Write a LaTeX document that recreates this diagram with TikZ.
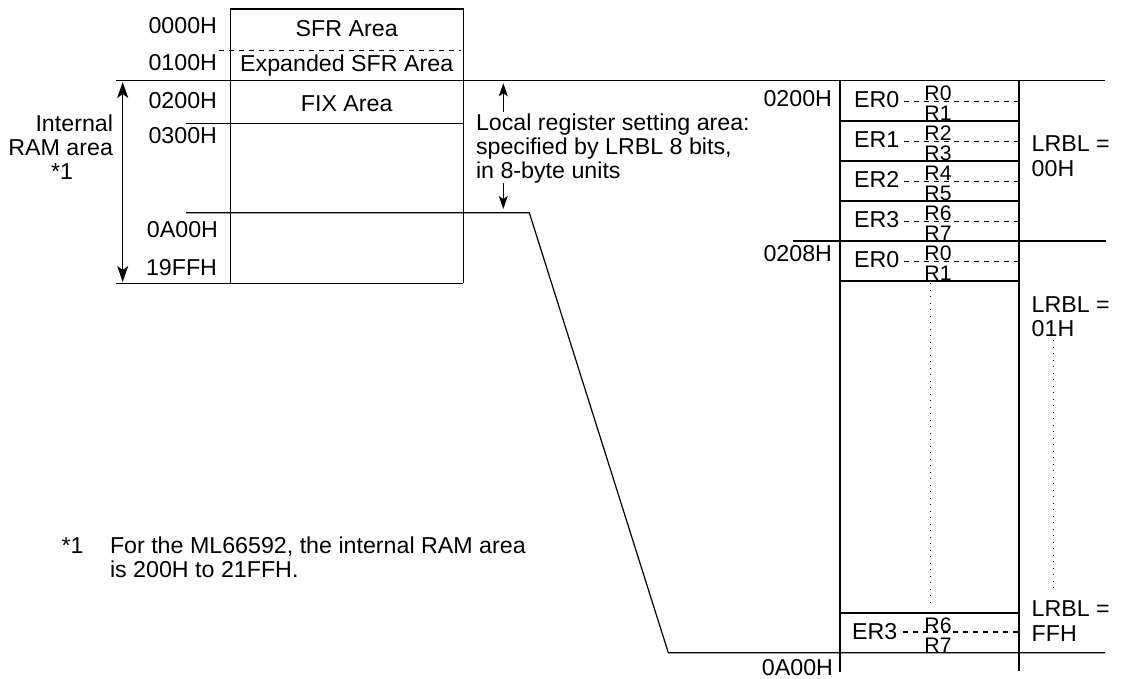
\documentclass[tikz,border=0pt]{standalone}
\usepackage{fontspec}
\setmainfont{Liberation Sans}[FakeStretch=1.01]
\usetikzlibrary{arrows.meta}
\begin{document}
\begin{tikzpicture}[x=1pt,y=-1pt,line width=1.2pt,
  lbl/.style={inner sep=0pt,outer sep=0pt,font=\fontsize{23}{24}\selectfont},
  rlbl/.style={inner sep=0pt,outer sep=0pt,font=\fontsize{21}{21}\selectfont},
  rowline/.style={line width=1.7pt},
  dashline/.style={line width=1.1pt,dash pattern=on 5pt off 5pt},
  dotline/.style={line width=1pt,dash pattern=on 1pt off 5.5pt},
  bigarrow/.style={{Stealth[length=16pt,width=11pt,inset=4pt]}-{Stealth[length=16pt,width=11pt,inset=4pt]}},
  smallarrow/.style={-{Stealth[length=13pt,width=9pt,inset=3pt]}}]
\useasboundingbox (0,0) rectangle (1121,678);

% ---------- left memory map ----------
\coordinate (bTL) at (230.7,9);
\coordinate (bTR) at (463.3,9);
\coordinate (bBL) at (230.7,283.3);
\coordinate (bBR) at (463.3,283.3);
\draw (bBL) -- (bTL) -- (bTR) -- (bBR);
\coordinate (dA) at (219,50.7);
\coordinate (dB) at (461,50.7);
\draw[dashline] (dA) -- (dB);
\coordinate (topL) at (116,80.7);
\coordinate (topR) at (1105,80.7);
\draw (topL) -- (topR);
\coordinate (l3A) at (186,123.7);
\coordinate (l3B) at (463.3,123.7);
\draw (l3A) -- (l3B);
\coordinate (lAA) at (186,212.7);
\coordinate (lAK) at (529.3,212.7);
\coordinate (lAD) at (668.3,652.7);
\coordinate (lAE) at (1105,652.7);
\draw (lAA) -- (lAK) -- (lAD) -- (lAE);
\coordinate (botL) at (116,283.3);
\draw (botL) -- (bBR);

\node[lbl,anchor=base east] (a0000) at (217,33) {0000H};
\node[lbl,anchor=base east] (a0100) at (217,70) {0100H};
\node[lbl,anchor=base east] (a0200) at (217,108.3) {0200H};
\node[lbl,anchor=base east] (a0300) at (217,143.5) {0300H};
\node[lbl,anchor=base east] (a0A00) at (218,237.5) {0A00H};
\node[lbl,anchor=base east] (a19FF) at (217,275) {19FFH};

\node[lbl,anchor=base] (sfr) at (346.7,36) {SFR Area};
\node[lbl,anchor=base] (esfr) at (346.7,71.7) {Expanded SFR Area};
\node[lbl,anchor=base] (fix) at (346.7,111.7) {FIX Area};

% internal RAM arrow
\coordinate (ramT) at (122.7,82);
\coordinate (ramB) at (122.7,282);
\draw[bigarrow] (ramT) -- (ramB);
\node[lbl,anchor=base east] (int1) at (113,131.5) {Internal};
\node[lbl,anchor=base east] (int2) at (113,155.2) {RAM area};
\node[lbl,anchor=base] (int3) at (62,179) {*1};

% local register setting area
\coordinate (upT) at (503.3,83.3);
\coordinate (upS) at (503.3,111.7);
\coordinate (dnS) at (503.3,183.3);
\coordinate (dnT) at (503.3,209);
\draw[smallarrow] (upS) -- (upT);
\draw[smallarrow] (dnS) -- (dnT);
\node[lbl,anchor=base west,align=left] (loc) at (476,178.3) {Local register setting area:\\specified by LRBL 8 bits,\\in 8-byte units};

% ---------- right register map ----------
\coordinate (rTL) at (840,80.7);
\coordinate (rBL) at (840,672);
\coordinate (rTR) at (1019,80.7);
\coordinate (rBR) at (1019,671);
\draw[line width=1.3pt] (rTL) -- (rBL);
\draw[line width=1.3pt] (rTR) -- (rBR);
\foreach \y in {121,161,201,281,613}{
  \draw[rowline] (840,\y) -- (1019,\y);
}
\coordinate (r208L) at (793,241);
\coordinate (r208R) at (1106,241);
\draw[rowline] (r208L) -- (r208R);

\foreach \t/\e/\a/\b [count=\i] in {81/ER0/R0/R1,121/ER1/R2/R3,161/ER2/R4/R5,201/ER3/R6/R7,241/ER0/R0/R1}{
  \draw[dashline] (904,\t+20.7) -- (1019,\t+20.7);
  \node[lbl,anchor=base west] (er\i) at (854,\t+26.3) {\e};
  \node[rlbl,anchor=base] (ra\i) at (938,\t+19.7) {\a};
  \node[rlbl,anchor=base] (rb\i) at (938,\t+39.7) {\b};
}
\draw[dashline] (903,632) -- (1019,632);
\node[lbl,anchor=base west] (erlast) at (852,639) {ER3};
\node[rlbl,anchor=base] (r6) at (938,632) {R6};
\node[rlbl,anchor=base] (r7) at (938,652) {R7};

\coordinate (dvA) at (930,283);
\coordinate (dvB) at (930,607);
\draw[dotline] (dvA) -- (dvB);
\coordinate (dlA) at (1053.3,340);
\coordinate (dlB) at (1053.3,593);
\draw[dotline] (dlA) -- (dlB);

\node[lbl,anchor=base east] (b0200) at (832,106) {0200H};
\node[lbl,anchor=base east] (b0208) at (832,261.7) {0208H};
\node[lbl,anchor=base east] (b0A00) at (833,675) {0A00H};

\node[lbl,anchor=base west] (lr1a) at (1031.7,151.7) {LRBL =};
\node[lbl,anchor=base west] (lr1b) at (1031.7,176.7) {00H};
\node[lbl,anchor=base west] (lr2a) at (1031.7,312.7) {LRBL =};
\node[lbl,anchor=base west] (lr2b) at (1031.7,336) {01H};
\node[lbl,anchor=base west] (lr3a) at (1031.7,616.7) {LRBL =};
\node[lbl,anchor=base west] (lr3b) at (1031.7,641.7) {FFH};

% footnote
\node[lbl,anchor=base west] (fnm) at (61.7,553.3) {*1};
\node[lbl,anchor=base west,align=left] (fnt) at (110,577.3) {For the ML66592, the internal RAM area\\is 200H to 21FFH.};
\end{tikzpicture}
\end{document}
